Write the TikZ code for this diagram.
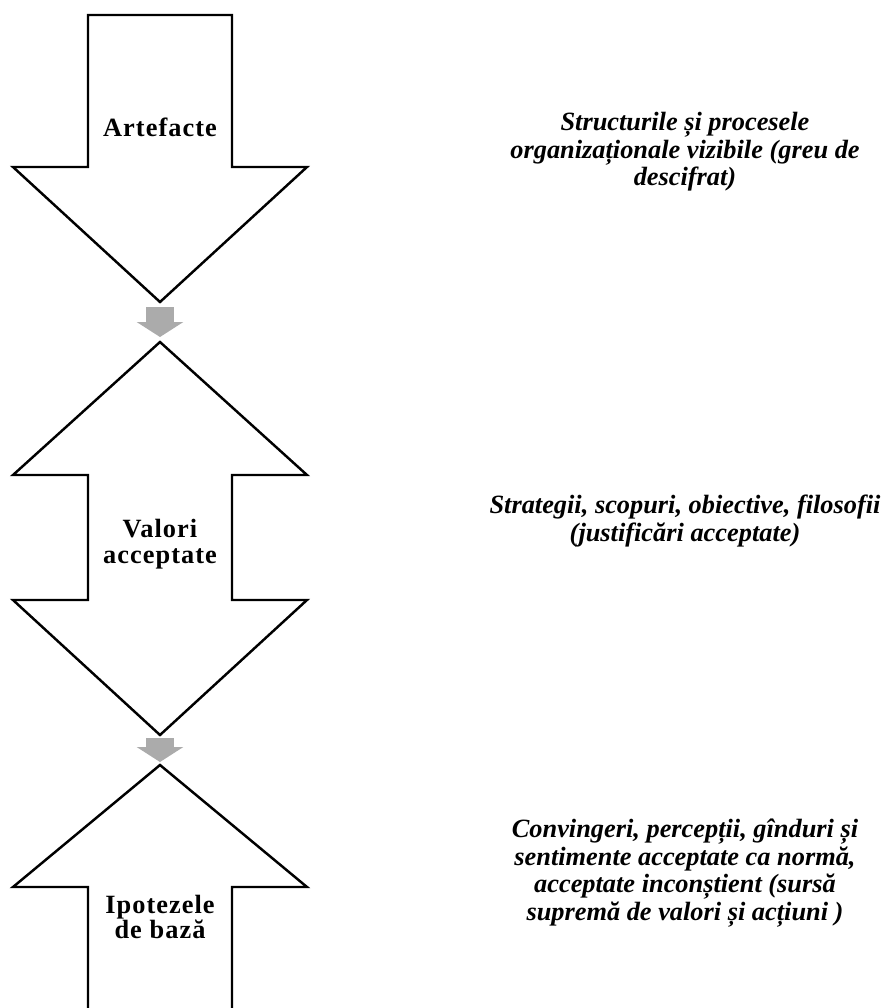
\documentclass[tikz,border=0pt]{standalone}
\usepackage{fontspec}
\setmainfont{Liberation Serif}
\newfontfamily\spacedfont[LetterSpace=4,BoldFont={Liberation Serif Bold}]{Liberation Serif}
\usetikzlibrary{arrows.meta,positioning}

\begin{document}
\begin{tikzpicture}[
        x=0.02cm, y=-0.02cm,
        layer/.style={draw, line width=1.4pt, fill=white, line join=miter},
        link/.style={draw=black!33, line width=0.56cm, -{Triangle[width=0.92cm, length=0.3cm]}},
        levelname/.style={font=\spacedfont\bfseries\fontsize{15}{14.5}\selectfont, align=center},
        note/.style={font=\bfseries\itshape\fontsize{15}{15.7}\selectfont, align=center}
    ]
        \useasboundingbox (0,0) rectangle (885,1008);

        % down arrow
        \draw[layer] (88,15) -- (232,15) -- (232,167) -- (307,167) -- (160,302)
            -- (13,167) -- (88,167) -- cycle;
        % double arrow
        \draw[layer] (160,342) -- (307,475) -- (232,475) -- (232,600) -- (307,600)
            -- (160,735) -- (13,600) -- (88,600) -- (88,475) -- (13,475) -- cycle;
        % up arrow
        \draw[layer] (88,1008) -- (88,887) -- (13,887) -- (160,765) -- (307,887)
            -- (232,887) -- (232,1008);

        \coordinate (art-tip) at (160,302);
        \coordinate (val-top) at (160,342);
        \coordinate (val-tip) at (160,735);
        \coordinate (ipo-top) at (160,765);

        \draw[link, shorten <=0.1cm, shorten >=0.1cm] (art-tip) -- (val-top);
        \draw[link, shorten <=0.06cm, shorten >=0.06cm] (val-tip) -- (ipo-top);

        \node[levelname] (artefacte) at (160,127) {Artefacte};
        \node[levelname] (valori) at (160,544) {Valori\\acceptate};
        \node[levelname] (ipoteze) at (160,917) {Ipotezele\\de bază};

        \node[note] (note-art) at (685,152) {Structurile și procesele\\organizaționale vizibile (greu de\\descifrat)};
        \node[note] (note-val) at (685,521) {Strategii, scopuri, obiective, filosofii\\(justificări acceptate)};
        \node[note] (note-ipo) at (685,873) {Convingeri, percepții, gînduri și\\sentimente acceptate ca normă,\\acceptate inconștient (sursă\\supremă de valori și acțiuni )};
    \end{tikzpicture}
\end{document}
